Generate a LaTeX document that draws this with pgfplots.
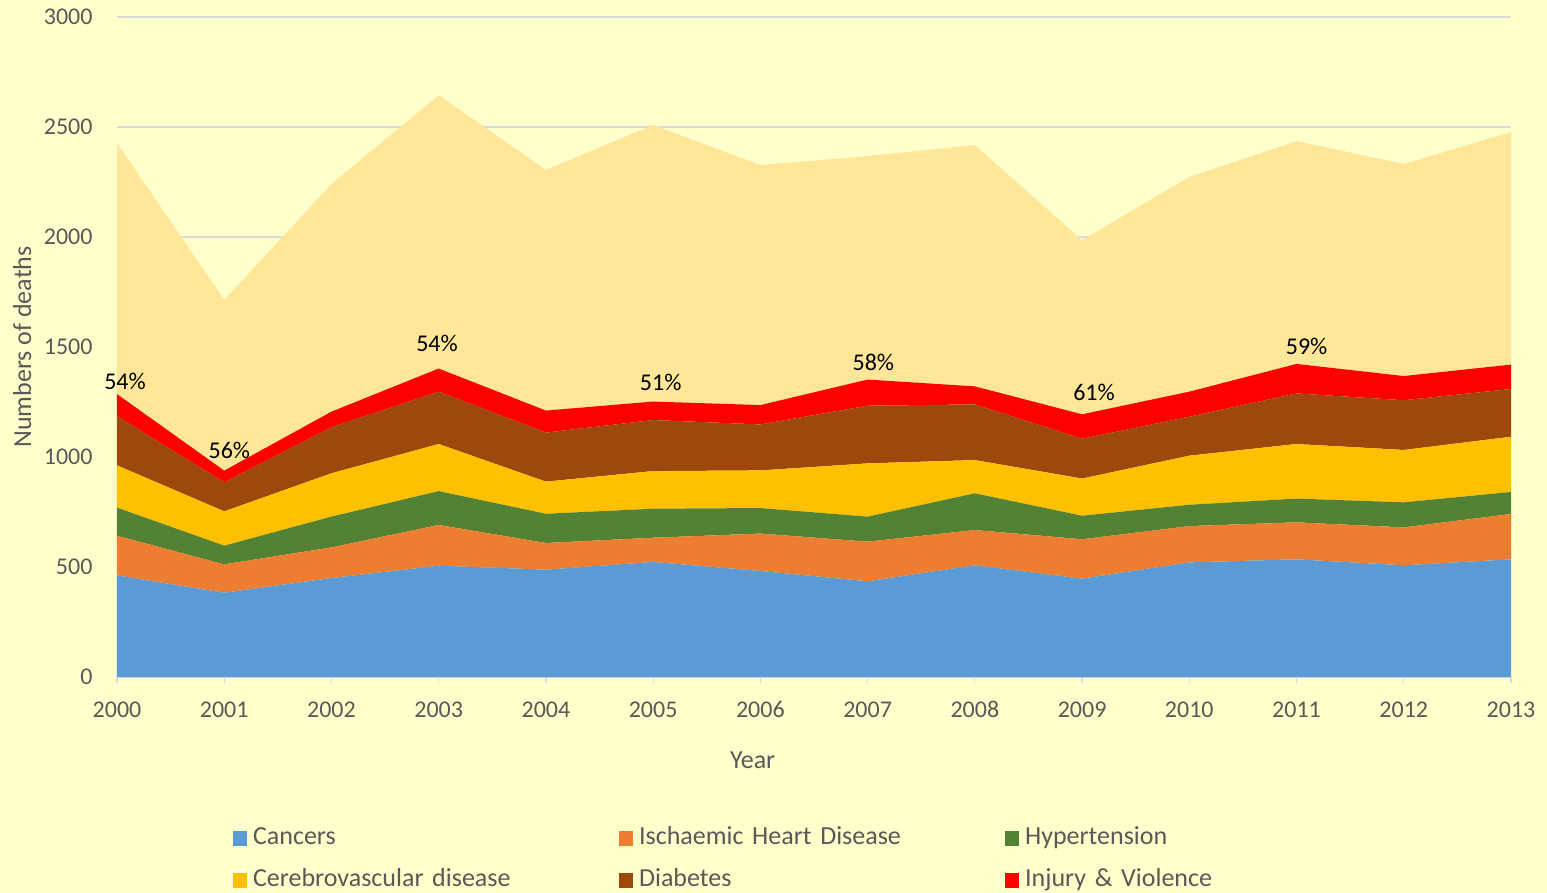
\documentclass[border=0pt]{standalone}
\usepackage{pgfplots}
\usepackage{pgfplotstable}
\pgfplotsset{compat=1.18}
\usepackage{fontspec}
\setmainfont{Carlito}

\definecolor{bg}{HTML}{FFFFCC}
\definecolor{cCan}{HTML}{5B9BD5}
\definecolor{cIHD}{HTML}{ED7D31}
\definecolor{cHyp}{HTML}{548235}
\definecolor{cCer}{HTML}{FFC000}
\definecolor{cDia}{HTML}{9E480E}
\definecolor{cInj}{HTML}{FF0000}
\definecolor{cOth}{HTML}{FFE699}
\definecolor{gridc}{HTML}{D9D9D9}
\definecolor{txt}{HTML}{595959}

\pgfplotstableread{
year can ihd hyp cer dia inj oth
2000 462 180 128 192 224 100 1141
2001 383 129 85 156 132 53 776
2002 450 139 140 197 209 71 1035
2003 506 185 154 214 238 105 1243
2004 488 121 133 146 223 100 1094
2005 523 110 132 171 232 84 1257
2006 482 170 116 171 209 88 1091
2007 435 180 114 242 262 119 1016
2008 508 160 167 151 253 82 1097
2009 447 179 107 169 181 111 792
2010 521 165 97 223 177 114 976
2011 535 168 108 248 230 134 1013
2012 508 172 114 238 226 110 964
2013 535 206 100 251 217 111 1057
}\data

\begin{document}
\begin{tikzpicture}
\fill[bg] (-117bp,-216bp) rectangle (1430bp,677bp);
\begin{axis}[
  name=ax,
  at={(0,0)}, anchor=south west,
  scale only axis, width=1394bp, height=660bp,
  xmin=2000, xmax=2013, ymin=0, ymax=3000,
  stack plots=y,
  xtick={2000,2001,...,2013}, ytick={0,500,...,3000},
  /pgf/number format/1000 sep={},
  /pgf/number format/assume math mode=true,
  ymajorgrids, grid style={draw=gridc, line width=1.2bp},
  axis x line*=bottom, axis y line*=left,
  x axis line style={draw=gridc, line width=1.2bp, -},
  y axis line style={draw=none},
  xtick style={draw=gridc, line width=1.2bp},
  ytick style={draw=none},
  tick align=outside, major tick length=6bp,
  ticklabel style={font=\fontsize{24bp}{28bp}\selectfont, text=txt},
  xticklabel style={yshift=-15bp},
  yticklabel style={xshift=-15bp},
  xlabel={Year}, ylabel={Numbers of deaths},
  label style={font=\fontsize{26bp}{30bp}\selectfont, text=txt},
  xlabel style={at={(axis description cs:0.456,-0.126)}, anchor=center},
  ylabel style={at={(axis description cs:-0.068,0.5)}, anchor=center},
  legend columns=3,
  legend image code/.code={\fill[#1] (0bp,-7.5bp) rectangle (14bp,7.5bp);},
  legend style={at={(axis description cs:0.0810,-0.2167)}, anchor=north west,
    draw=none, fill=none, font=\fontsize{26bp}{30bp}\selectfont, text=txt,
    nodes={text width=360bp, align=left, text height=18bp, text depth=6bp, inner ysep=4bp, inner xsep=6bp},
    row sep=10bp},
  extra description/.code={
    \begingroup
    \fontsize{24bp}{28bp}\selectfont
    \node at (axis description cs:0.00574,0.4485) {54\%};
    \node at (axis description cs:0.0806,0.3439) {56\%};
    \node at (axis description cs:0.2296,0.5061) {54\%};
    \node at (axis description cs:0.3900,0.4465) {51\%};
    \node at (axis description cs:0.5426,0.4773) {58\%};
    \node at (axis description cs:0.7009,0.4318) {61\%};
    \node at (axis description cs:0.8534,0.5005) {59\%};
    \endgroup
  },
]
\addplot[fill=cCan, draw=none] table[x=year,y=can]{\data} \closedcycle;
\addplot[fill=cIHD, draw=none] table[x=year,y=ihd]{\data} \closedcycle;
\addplot[fill=cHyp, draw=none] table[x=year,y=hyp]{\data} \closedcycle;
\addplot[fill=cCer, draw=none] table[x=year,y=cer]{\data} \closedcycle;
\addplot[fill=cDia, draw=none] table[x=year,y=dia]{\data} \closedcycle;
\addplot[fill=cInj, draw=none] table[x=year,y=inj]{\data} \closedcycle;
\addplot[fill=cOth, draw=none] table[x=year,y=oth]{\data} \closedcycle;
\legend{Cancers, Ischaemic Heart Disease, Hypertension, Cerebrovascular disease, Diabetes, Injury \& Violence}
\end{axis}
\pgfresetboundingbox
\useasboundingbox (-117bp,-216bp) rectangle (1430bp,677bp);
\end{tikzpicture}
\end{document}
